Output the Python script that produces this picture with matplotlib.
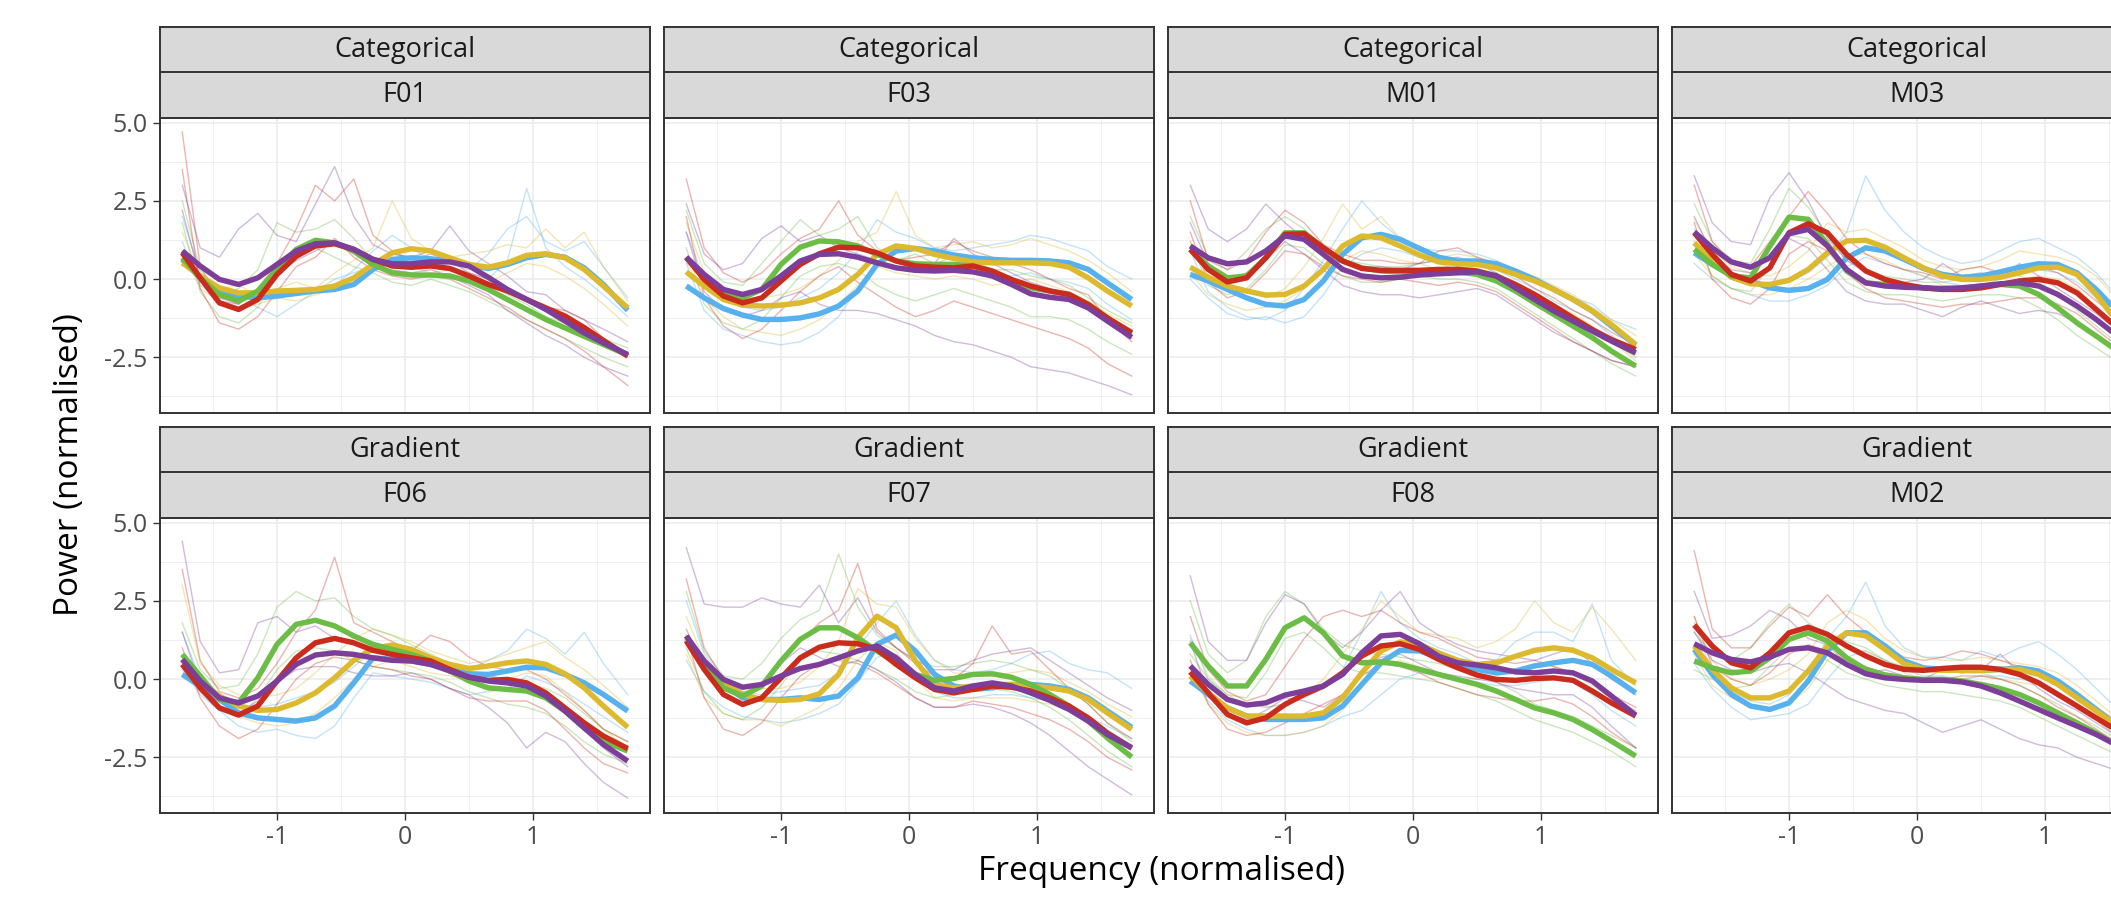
import matplotlib
matplotlib.use("Agg")
import matplotlib.pyplot as plt
from matplotlib.ticker import FixedLocator

plt.rcParams['font.family'] = ['Open Sans', 'DejaVu Sans']

# normalised frequency grid shared by every trace
freq = [-1.74, -1.6, -1.45, -1.3, -1.15, -1.0, -0.85, -0.7, -0.55, -0.4, -0.25, -0.1,
        0.05, 0.2, 0.35, 0.5, 0.65, 0.8, 0.95, 1.1, 1.25, 1.4, 1.55, 1.74]

conditions = ["Categorical"] * 4 + ["Gradient"] * 4
speakers = ["F01", "F03", "M01", "M03", "F06", "F07", "F08", "M02"]
groups = ["blue", "yellow", "green", "red", "purple"]

#########-----F01-----#########
f01_blue = [0.63, 0.04, -0.33, -0.54, -0.60, -0.54, -0.46, -0.38, -0.33, -0.17, 0.31, 0.63, 0.68, 0.65, 0.58, 0.45, 0.34, 0.47, 0.68, 0.79, 0.70, 0.36, -0.17, -1.0]
f01_yellow = [0.52, 0.10, -0.28, -0.44, -0.44, -0.38, -0.36, -0.33, -0.22, 0.04, 0.47, 0.84, 0.97, 0.90, 0.68, 0.47, 0.38, 0.52, 0.76, 0.81, 0.68, 0.31, -0.22, -0.92]
f01_green = [0.68, 0.04, -0.49, -0.70, -0.38, 0.31, 0.95, 1.24, 1.16, 0.90, 0.47, 0.20, 0.13, 0.13, 0.10, -0.06, -0.33, -0.65, -0.97, -1.29, -1.56, -1.83, -2.09, -2.43]
f01_red = [0.84, 0.04, -0.76, -0.97, -0.65, 0.15, 0.73, 1.06, 1.13, 0.95, 0.63, 0.42, 0.38, 0.42, 0.34, 0.10, -0.17, -0.38, -0.65, -0.92, -1.18, -1.55, -1.96, -2.46]
f01_purple = [0.90, 0.42, -0.01, -0.17, 0.04, 0.47, 0.90, 1.13, 1.16, 0.95, 0.63, 0.49, 0.49, 0.55, 0.55, 0.42, 0.06, -0.33, -0.65, -0.97, -1.34, -1.72, -2.04, -2.41]
f01_blue_thin = [[2.0, 0.2, -0.5, -0.6, -0.9, -1.2, -0.8, -0.4, -0.2, 0.3, 0.9, 1.4, 1.0, 0.6, 0.5, 0.3, 0.8, 1.6, 2.0, 1.2, 0.9, 1.2, 0.4, -0.6],
                 [1.2, -0.2, -0.6, -0.7, -0.6, -0.5, -0.3, -0.4, 0.0, 0.2, 0.4, 0.8, 0.7, 0.5, 0.4, 0.2, 0.0, 0.6, 2.9, 1.0, 0.4, 0.0, -0.5, -1.2]]
f01_yellow_thin = [[1.5, 0.1, -0.3, -0.2, -0.5, -0.3, -0.1, -0.3, 0.2, 0.6, 1.0, 2.5, 1.3, 0.9, 0.7, 0.8, 0.9, 1.1, 1.0, 1.6, 1.0, 1.5, 0.4, -0.7],
                   [0.9, -0.3, -0.7, -0.9, -0.8, -0.6, -0.7, -0.5, -0.3, -0.2, 0.3, 0.6, 0.4, 0.2, 0.3, 0.1, -0.1, 0.2, 0.5, 0.4, 0.1, -0.3, -0.8, -1.5]]
f01_green_thin = [[2.5, 0.3, -0.5, -0.3, 0.3, 1.8, 1.5, 1.6, 1.9, 1.3, 0.6, 0.4, 0.3, 0.5, 0.3, 0.1, -0.1, -0.5, -0.8, -1.2, -1.4, -1.6, -1.9, -2.2],
                  [1.8, -0.4, -1.2, -1.4, -0.9, 0.1, 0.8, 1.0, 0.7, 0.4, 0.2, -0.1, -0.2, 0.0, -0.2, -0.4, -0.7, -1.0, -1.3, -1.6, -1.9, -2.2, -2.5, -2.8]]
f01_red_thin = [[4.7, 0.4, -0.6, -0.8, -0.3, 0.5, 1.6, 3.0, 2.5, 3.2, 1.4, 0.9, 0.6, 0.8, 0.6, 0.2, 0.0, -0.3, -0.6, -0.9, -1.0, -1.3, -1.9, -2.5],
                [3.5, -0.3, -1.4, -1.6, -1.2, -0.4, 0.4, 0.7, 1.3, 0.7, 0.3, 0.1, 0.0, 0.1, 0.0, -0.3, -0.6, -0.9, -1.3, -1.6, -1.9, -2.3, -2.8, -3.4]]
f01_purple_thin = [[3.0, 1.0, 0.7, 1.6, 2.1, 1.4, 1.2, 2.4, 3.6, 2.0, 1.1, 0.8, 0.7, 0.9, 1.7, 0.9, 0.5, 0.1, -0.4, -0.5, -1.0, -1.3, -1.6, -2.0],
                   [2.2, 0.0, -0.7, -0.8, -0.4, 0.2, 0.6, 0.9, 1.2, 0.8, 0.4, 0.3, 0.2, 0.3, 0.1, -0.2, -0.5, -1.0, -1.4, -1.8, -2.1, -2.5, -2.8, -3.1]]

#########-----F03-----#########
f03_blue = [-0.22, -0.60, -0.94, -1.15, -1.29, -1.29, -1.24, -1.11, -0.86, -0.38, 0.47, 0.90, 0.98, 0.90, 0.77, 0.68, 0.63, 0.60, 0.60, 0.58, 0.52, 0.31, -0.12, -0.65]
f03_yellow = [0.23, -0.22, -0.65, -0.83, -0.86, -0.83, -0.76, -0.60, -0.33, 0.15, 0.79, 1.06, 0.98, 0.79, 0.66, 0.55, 0.52, 0.52, 0.52, 0.50, 0.38, 0.04, -0.38, -0.86]
f03_green = [0.68, 0.04, -0.38, -0.60, -0.33, 0.47, 1.02, 1.22, 1.19, 1.06, 0.79, 0.58, 0.49, 0.47, 0.47, 0.42, 0.23, -0.06, -0.28, -0.38, -0.49, -0.81, -1.24, -1.75]
f03_red = [0.70, -0.01, -0.54, -0.76, -0.60, -0.06, 0.47, 0.81, 1.02, 1.00, 0.84, 0.58, 0.42, 0.38, 0.36, 0.42, 0.26, -0.01, -0.22, -0.38, -0.49, -0.81, -1.24, -1.71]
f03_purple = [0.70, 0.15, -0.33, -0.49, -0.33, 0.10, 0.58, 0.79, 0.81, 0.70, 0.52, 0.36, 0.28, 0.26, 0.28, 0.23, 0.10, -0.17, -0.47, -0.58, -0.65, -0.92, -1.34, -1.86]
f03_blue_thin = [[1.5, 0.0, -0.6, -0.9, -1.0, -0.9, -0.6, -0.3, 0.2, 0.9, 1.9, 1.5, 1.3, 1.0, 0.9, 1.0, 1.1, 1.2, 1.4, 1.3, 1.1, 0.9, 0.4, 0.0],
                 [0.5, -1.0, -1.6, -1.8, -2.0, -2.1, -2.0, -1.7, -1.2, -0.3, 0.5, 0.3, 0.4, 0.2, 0.3, 0.2, 0.1, 0.1, 0.2, 0.0, -0.1, -0.3, -0.8, -1.3]]
f03_yellow_thin = [[1.8, 0.2, -0.4, -0.6, -0.6, -0.5, -0.3, 0.1, 0.6, 1.2, 1.5, 2.8, 1.4, 1.0, 1.1, 1.2, 1.0, 1.1, 1.3, 1.1, 0.9, 0.6, 0.2, -0.4],
                   [0.6, -0.6, -1.2, -1.6, -1.7, -1.8, -1.6, -1.3, -0.8, -0.2, 0.4, 0.2, 0.1, 0.0, 0.1, 0.0, -0.2, -0.1, 0.0, -0.2, -0.4, -0.7, -1.1, -1.5]]
f03_green_thin = [[2.2, 0.5, -0.1, -0.2, 0.5, 1.2, 1.9, 1.4, 1.6, 2.0, 1.0, 0.6, 0.8, 0.5, 0.7, 0.6, 0.3, 0.3, 0.1, 0.0, -0.2, -0.6, -1.0, -1.4],
                  [1.0, -0.8, -1.4, -1.6, -1.3, -0.6, 0.1, 0.4, 0.5, 0.3, -0.2, -0.5, -0.7, -0.5, -0.3, -0.5, -0.7, -0.9, -1.2, -1.2, -1.3, -1.6, -2.0, -2.4]]
f03_red_thin = [[3.2, 1.0, 0.2, -0.1, 0.2, 0.8, 1.3, 1.6, 2.5, 1.4, 0.9, 0.6, 0.7, 0.8, 1.2, 0.9, 0.7, 0.5, 0.3, 0.0, -0.3, -0.5, -1.3, -2.0],
                [2.0, -0.6, -1.5, -1.9, -1.6, -1.0, -0.4, 0.1, 0.4, -0.1, -0.5, -0.9, -1.2, -1.0, -0.7, -0.9, -1.1, -1.3, -1.5, -1.7, -1.9, -2.2, -2.7, -3.1]]
f03_purple_thin = [[2.4, 0.8, 0.3, 0.5, 1.3, 1.7, 1.2, 1.4, 1.0, 0.8, 0.6, 0.4, 0.4, 0.5, 1.3, 0.8, 0.5, 0.2, -0.1, -0.3, -0.5, -0.9, -1.4, -1.9],
                   [1.5, -0.4, -1.0, -1.2, -1.0, -0.6, -0.4, -0.8, -1.0, -1.0, -1.1, -1.3, -1.5, -1.8, -2.0, -2.1, -2.3, -2.5, -2.8, -2.9, -3.0, -3.2, -3.4, -3.7]]

#########-----M01-----#########
m01_blue = [0.15, -0.06, -0.33, -0.60, -0.81, -0.86, -0.65, -0.06, 0.79, 1.32, 1.43, 1.27, 0.98, 0.70, 0.58, 0.58, 0.49, 0.26, -0.01, -0.33, -0.65, -1.02, -1.50, -2.11]
m01_yellow = [0.38, 0.06, -0.22, -0.38, -0.51, -0.49, -0.22, 0.31, 1.06, 1.38, 1.32, 1.06, 0.77, 0.55, 0.49, 0.47, 0.36, 0.15, -0.06, -0.33, -0.65, -1.02, -1.45, -2.09]
m01_green = [0.95, 0.42, 0.04, 0.10, 0.68, 1.48, 1.48, 1.00, 0.58, 0.36, 0.26, 0.23, 0.23, 0.23, 0.23, 0.15, -0.06, -0.38, -0.76, -1.13, -1.50, -1.87, -2.30, -2.78]
m01_red = [0.95, 0.31, -0.09, 0.04, 0.68, 1.43, 1.45, 1.00, 0.58, 0.34, 0.28, 0.28, 0.28, 0.31, 0.31, 0.26, 0.10, -0.17, -0.49, -0.86, -1.24, -1.61, -1.93, -2.25]
m01_purple = [1.06, 0.68, 0.49, 0.55, 0.90, 1.38, 1.27, 0.79, 0.31, 0.10, 0.04, 0.06, 0.13, 0.17, 0.20, 0.23, 0.10, -0.28, -0.65, -1.02, -1.34, -1.66, -1.98, -2.36]
m01_blue_thin = [[0.9, -0.4, -0.9, -1.2, -1.3, -1.0, -0.3, 0.6, 1.6, 2.5, 1.8, 1.3, 1.0, 0.9, 0.9, 0.8, 0.6, 0.3, -0.1, -0.3, -0.6, -0.8, -1.3, -1.6],
                 [0.0, -0.6, -1.1, -1.3, -1.2, -1.4, -1.2, -0.5, 0.4, 0.8, 1.0, 0.9, 0.7, 0.5, 0.3, 0.4, 0.3, 0.0, -0.3, -0.7, -1.0, -1.3, -1.8, -2.4]]
m01_yellow_thin = [[1.2, 0.1, -0.4, -0.3, -0.6, -0.3, 0.4, 1.3, 2.4, 1.6, 2.0, 1.3, 0.9, 0.7, 0.8, 0.7, 0.5, 0.3, 0.1, -0.2, -0.5, -0.9, -1.3, -1.8],
                   [0.2, -0.5, -0.8, -1.0, -0.9, -0.7, -0.3, 0.3, 0.6, 0.9, 0.8, 0.6, 0.5, 0.3, 0.2, 0.3, 0.1, -0.2, -0.5, -0.8, -1.1, -1.5, -2.0, -2.6]]
m01_green_thin = [[2.0, 0.7, 0.3, 0.9, 1.6, 2.0, 1.6, 0.9, 0.6, 0.5, 0.4, 0.4, 0.5, 0.6, 0.4, 0.3, 0.2, -0.1, -0.5, -0.9, -1.3, -1.6, -2.0, -2.5],
                  [1.2, -0.2, -0.5, -0.3, 0.3, 1.1, 1.0, 0.5, 0.1, -0.1, -0.1, 0.0, 0.1, 0.0, 0.0, -0.1, -0.3, -0.7, -1.1, -1.5, -1.9, -2.3, -2.7, -3.1]]
m01_red_thin = [[2.5, 0.6, 0.3, 0.6, 1.5, 2.2, 1.8, 1.1, 0.8, 0.6, 0.6, 0.5, 0.5, 0.9, 1.0, 0.7, 0.5, 0.1, -0.3, -0.6, -1.0, -1.3, -1.7, -2.1],
                [1.5, -0.1, -0.6, -0.4, 0.2, 0.9, 0.8, 0.4, 0.1, 0.0, -0.1, 0.0, -0.1, -0.2, -0.1, -0.2, -0.4, -0.8, -1.2, -1.6, -2.0, -2.3, -2.6, -2.8]]
m01_purple_thin = [[3.0, 1.6, 1.2, 1.6, 2.4, 1.8, 1.3, 1.0, 0.6, 0.4, 0.4, 0.3, 0.5, 0.6, 0.7, 0.5, 0.2, -0.2, -0.6, -0.9, -1.3, -1.6, -1.9, -2.2],
                   [1.8, 0.5, 0.0, 0.2, 0.6, 1.2, 0.8, 0.3, -0.2, -0.4, -0.5, -0.5, -0.6, -0.5, -0.4, -0.3, -0.5, -0.9, -1.3, -1.7, -2.0, -2.3, -2.6, -2.8]]

#########-----M03-----#########
m03_blue = [0.84, 0.47, 0.15, -0.06, -0.28, -0.36, -0.30, -0.01, 0.68, 1.00, 0.90, 0.63, 0.34, 0.15, 0.06, 0.10, 0.23, 0.38, 0.49, 0.47, 0.20, -0.33, -0.97, -1.66]
m03_yellow = [1.16, 0.58, 0.06, -0.15, -0.17, -0.04, 0.31, 0.84, 1.22, 1.24, 1.02, 0.68, 0.36, 0.10, -0.01, -0.01, 0.06, 0.20, 0.36, 0.38, 0.15, -0.49, -1.29, -2.09]
m03_green = [0.95, 0.47, 0.10, 0.04, 1.05, 1.98, 1.91, 1.11, 0.26, -0.12, -0.17, -0.22, -0.28, -0.33, -0.30, -0.22, -0.17, -0.22, -0.49, -0.92, -1.40, -1.82, -2.25, -2.73]
m03_red = [1.48, 0.79, 0.15, -0.06, 0.36, 1.48, 1.77, 1.48, 0.79, 0.26, -0.01, -0.17, -0.28, -0.33, -0.33, -0.28, -0.17, -0.06, -0.01, -0.12, -0.44, -0.97, -1.50, -2.30]
m03_purple = [1.51, 1.00, 0.55, 0.38, 0.68, 1.45, 1.59, 1.06, 0.31, -0.12, -0.22, -0.26, -0.28, -0.30, -0.28, -0.22, -0.15, -0.12, -0.22, -0.49, -0.86, -1.29, -1.77, -2.30]
m03_blue_thin = [[1.6, 0.5, 0.2, 0.0, -0.2, -0.1, 0.2, 0.7, 1.5, 3.3, 2.2, 1.5, 1.0, 0.7, 0.5, 0.6, 0.9, 1.2, 1.3, 1.0, 0.7, 0.2, -0.5, -1.2],
                 [0.5, 0.0, -0.3, -0.5, -0.7, -0.7, -0.5, -0.2, 0.4, 0.7, 0.5, 0.3, 0.1, -0.1, -0.2, -0.2, 0.0, 0.2, 0.3, 0.2, -0.1, -0.6, -1.2, -2.0]]
m03_yellow_thin = [[1.9, 0.9, 0.4, 0.2, 0.1, 0.4, 0.9, 1.8, 1.5, 1.6, 1.3, 1.0, 0.6, 0.4, 0.3, 0.4, 0.6, 0.9, 0.8, 0.7, 0.5, 0.1, -0.6, -1.5],
                   [0.8, 0.1, -0.3, -0.5, -0.5, -0.3, 0.0, 0.4, 0.8, 0.8, 0.6, 0.3, 0.1, -0.2, -0.3, -0.3, -0.2, 0.0, 0.1, 0.0, -0.3, -0.9, -1.6, -2.4]]
m03_green_thin = [[2.4, 1.2, 0.6, 0.5, 1.6, 2.9, 2.3, 1.4, 0.6, 0.3, 0.1, 0.0, -0.1, -0.1, 0.0, 0.1, 0.2, 0.1, -0.1, -0.5, -1.0, -1.5, -2.0, -2.5],
                  [1.2, 0.1, -0.3, -0.4, 0.4, 1.4, 1.3, 0.6, -0.1, -0.4, -0.5, -0.5, -0.6, -0.7, -0.6, -0.5, -0.5, -0.6, -0.9, -1.3, -1.8, -2.2, -2.6, -3.0]]
m03_red_thin = [[3.0, 1.2, 0.5, 0.4, 1.2, 2.0, 2.8, 2.1, 1.3, 0.8, 0.5, 0.3, 0.2, 0.0, 0.3, 0.4, 0.2, 0.3, 0.4, 0.2, -0.2, -0.7, -1.2, -2.0],
                [1.8, 0.0, -0.6, -0.8, -0.3, 0.8, 1.2, 0.9, 0.2, -0.3, -0.6, -0.7, -0.8, -0.9, -0.8, -0.8, -0.7, -0.6, -0.6, -0.8, -1.1, -1.6, -2.1, -2.6]]
m03_purple_thin = [[3.3, 1.8, 1.2, 1.1, 2.6, 3.4, 2.5, 1.3, 0.6, 0.2, 0.0, -0.1, 0.0, 0.5, 0.1, 0.2, 0.0, 0.5, 0.1, -0.3, -0.7, -1.1, -1.6, -2.2],
                   [2.0, 0.8, 0.3, 0.2, 0.8, 1.3, 1.0, 0.3, -0.4, -0.7, -0.8, -0.8, -1.0, -1.2, -0.9, -0.7, -0.9, -1.1, -1.0, -1.1, -1.4, -1.8, -2.3, -2.8]]

#########-----F06-----#########
f06_blue = [0.15, -0.22, -0.65, -1.08, -1.24, -1.29, -1.34, -1.24, -0.86, -0.12, 0.68, 0.63, 0.58, 0.47, 0.31, 0.17, 0.15, 0.26, 0.38, 0.36, 0.15, -0.12, -0.49, -1.02]
f06_yellow = [0.47, -0.06, -0.54, -0.86, -1.00, -0.97, -0.76, -0.44, 0.04, 0.60, 0.98, 1.09, 0.95, 0.68, 0.47, 0.34, 0.42, 0.52, 0.58, 0.47, 0.17, -0.28, -0.86, -1.54]
f06_green = [0.79, 0.10, -0.65, -0.76, 0.04, 1.11, 1.75, 1.88, 1.70, 1.38, 1.11, 0.95, 0.79, 0.58, 0.26, -0.06, -0.28, -0.33, -0.38, -0.60, -1.02, -1.56, -1.98, -2.30]
f06_red = [0.47, -0.28, -0.92, -1.15, -0.86, -0.06, 0.68, 1.16, 1.30, 1.16, 0.92, 0.79, 0.68, 0.58, 0.31, 0.06, -0.04, -0.01, -0.12, -0.44, -0.92, -1.40, -1.82, -2.22]
f06_purple = [0.63, -0.06, -0.60, -0.76, -0.54, -0.06, 0.47, 0.77, 0.84, 0.79, 0.68, 0.60, 0.58, 0.47, 0.26, 0.06, -0.06, -0.12, -0.22, -0.54, -1.02, -1.56, -2.09, -2.62]
f06_blue_thin = [[1.5, 0.0, -0.5, -0.8, -0.9, -0.8, -0.6, -0.4, -0.1, 0.4, 0.9, 0.9, 0.8, 0.6, 0.4, 0.3, 0.6, 0.9, 1.6, 1.3, 0.8, 1.5, 0.5, -0.5],
                 [0.3, -0.5, -1.0, -1.5, -1.7, -1.6, -1.8, -1.9, -1.5, -0.6, 0.2, 0.1, 0.0, -0.1, -0.3, -0.5, -0.4, -0.3, 0.1, -0.1, -0.4, -0.8, -1.2, -1.7]]
f06_yellow_thin = [[3.0, 0.5, -0.2, -0.5, -0.6, -0.5, -0.3, 0.2, 0.8, 1.3, 1.6, 1.4, 1.2, 0.9, 0.7, 0.5, 0.6, 0.8, 1.0, 1.2, 0.7, 0.3, -0.2, -0.9],
                   [0.8, -0.4, -0.9, -1.2, -1.4, -1.5, -1.4, -1.1, -0.6, 0.0, 0.4, 0.6, 0.4, 0.2, 0.1, 0.0, -0.1, 0.0, 0.2, 0.1, -0.4, -1.0, -1.6, -2.2]]
f06_green_thin = [[1.8, 0.3, -0.3, -0.2, 0.8, 2.3, 2.8, 2.5, 2.6, 2.0, 1.6, 1.4, 1.1, 0.8, 0.5, 0.2, 0.0, 0.0, -0.1, -0.3, -0.6, -1.1, -1.6, -2.0],
                  [0.5, -0.4, -1.0, -1.2, -0.6, 0.3, 0.9, 1.0, 0.9, 0.6, 0.4, 0.3, 0.2, 0.1, -0.1, -0.4, -0.6, -0.8, -0.9, -1.1, -1.5, -2.0, -2.4, -2.7]]
f06_red_thin = [[3.5, 0.6, -0.4, -0.6, -0.3, 0.5, 1.5, 2.2, 3.9, 1.8, 1.5, 1.2, 0.9, 1.4, 1.2, 0.7, 0.4, 0.3, 0.3, 0.0, -0.5, -1.0, -1.6, -2.0],
                [1.0, -0.6, -1.5, -1.9, -1.6, -0.8, 0.0, 0.5, 0.7, 0.6, 0.4, 0.3, 0.1, 0.0, -0.3, -0.6, -0.7, -0.7, -0.7, -1.0, -1.6, -2.2, -2.7, -3.0]]
f06_purple_thin = [[4.4, 1.2, 0.2, 0.3, 1.8, 2.0, 1.5, 1.7, 1.3, 1.1, 0.9, 0.8, 0.9, 0.7, 0.4, 0.2, 0.1, 0.0, -0.2, -0.5, -1.0, -1.6, -2.2, -2.8],
                   [1.5, -0.2, -0.9, -1.1, -0.7, -0.1, 0.3, 0.4, 0.4, 0.2, 0.1, 0.1, 0.2, 0.0, -0.3, -0.5, -0.9, -1.4, -2.2, -1.7, -2.0, -2.7, -3.3, -3.8]]

#########-----F07-----#########
f07_blue = [1.27, 0.47, -0.17, -0.60, -0.65, -0.65, -0.60, -0.65, -0.54, 0.04, 1.11, 1.41, 0.90, 0.15, -0.22, -0.33, -0.28, -0.17, -0.17, -0.22, -0.33, -0.60, -1.02, -1.54]
f07_yellow = [1.32, 0.58, -0.12, -0.49, -0.65, -0.68, -0.65, -0.47, 0.15, 1.32, 2.01, 1.64, 0.58, -0.17, -0.28, -0.22, -0.17, -0.17, -0.22, -0.28, -0.38, -0.65, -1.08, -1.61]
f07_green = [1.38, 0.47, -0.28, -0.54, -0.22, 0.58, 1.27, 1.64, 1.64, 1.32, 0.90, 0.52, 0.15, -0.04, 0.02, 0.15, 0.17, 0.06, -0.17, -0.49, -0.86, -1.34, -1.88, -2.49]
f07_red = [1.22, 0.31, -0.49, -0.81, -0.60, 0.04, 0.68, 1.02, 1.16, 1.13, 0.95, 0.47, 0.04, -0.33, -0.44, -0.33, -0.22, -0.26, -0.38, -0.60, -0.86, -1.24, -1.72, -2.20]
f07_purple = [1.38, 0.58, -0.01, -0.26, -0.17, 0.10, 0.34, 0.47, 0.68, 0.90, 1.06, 0.68, 0.15, -0.28, -0.38, -0.22, -0.12, -0.22, -0.44, -0.68, -0.97, -1.34, -1.77, -2.20]
f07_blue_thin = [[2.5, 0.8, 0.0, -0.4, -0.5, -0.4, -0.3, -0.2, 0.2, 1.0, 1.8, 2.5, 1.4, 0.6, 0.3, 0.2, 0.3, 0.5, 0.8, 0.9, 0.5, 0.3, 0.2, -0.3],
                 [0.6, -0.4, -0.9, -1.2, -1.3, -1.4, -1.3, -1.1, -0.8, -0.1, 0.7, 0.8, 0.2, -0.4, -0.6, -0.6, -0.5, -0.5, -0.6, -0.7, -0.9, -1.2, -1.5, -1.9]]
f07_yellow_thin = [[2.0, 0.6, -0.2, -0.4, -0.3, -0.3, -0.1, 0.4, 1.2, 2.9, 2.4, 2.3, 1.3, 0.6, 0.2, 0.1, 0.1, 0.2, 0.3, 0.2, -0.1, -0.4, -0.8, -1.2],
                   [0.8, -0.6, -1.1, -1.3, -1.3, -1.5, -1.2, -0.9, -0.3, 0.6, 1.2, 0.9, 0.0, -0.6, -0.7, -0.6, -0.6, -0.6, -0.7, -0.8, -1.0, -1.3, -1.7, -2.1]]
f07_green_thin = [[2.8, 0.9, 0.1, 0.0, 0.5, 1.3, 1.9, 2.2, 4.0, 2.3, 1.4, 1.0, 0.6, 0.4, 0.4, 0.5, 0.6, 0.5, 0.3, 0.1, -0.3, -0.8, -1.4, -2.0],
                  [1.0, -0.4, -1.1, -1.3, -0.9, -0.2, 0.6, 0.9, 0.8, 0.6, 0.3, 0.0, -0.4, -0.6, -0.5, -0.3, -0.3, -0.4, -0.6, -0.9, -1.3, -1.8, -2.3, -2.8]]
f07_red_thin = [[3.2, 1.0, 0.0, -0.3, -0.1, 0.6, 1.2, 1.8, 2.2, 3.7, 1.6, 1.0, 0.5, 0.1, 0.0, 0.5, 1.7, 0.8, 0.9, 0.3, -0.3, -0.8, -1.4, -1.9],
                [1.4, -0.6, -1.6, -1.8, -1.4, -0.6, 0.1, 0.5, 0.6, 0.5, 0.2, -0.2, -0.6, -0.9, -0.9, -0.7, -0.8, -0.9, -1.1, -1.3, -1.6, -2.0, -2.5, -2.9]]
f07_purple_thin = [[4.2, 2.4, 2.3, 2.3, 2.6, 2.4, 2.3, 3.0, 1.8, 2.6, 1.5, 1.0, 0.6, 0.3, 0.3, 0.6, 0.8, 0.9, 1.0, 0.6, 0.2, -0.2, -0.6, -1.0],
                   [1.6, 0.3, -0.3, -0.5, -0.2, 0.5, 1.0, 0.7, 0.4, 0.6, 0.3, -0.1, -0.6, -0.9, -0.9, -0.8, -0.9, -1.1, -1.4, -1.8, -2.3, -2.8, -3.2, -3.7]]

#########-----F08-----#########
f08_blue = [-0.06, -0.49, -0.92, -1.18, -1.29, -1.29, -1.29, -1.24, -0.86, -0.17, 0.52, 0.92, 0.90, 0.70, 0.49, 0.31, 0.20, 0.26, 0.42, 0.52, 0.60, 0.47, 0.10, -0.44]
f08_yellow = [0.10, -0.44, -0.92, -1.18, -1.18, -1.18, -1.18, -1.08, -0.60, 0.20, 0.90, 1.19, 1.11, 0.84, 0.60, 0.47, 0.52, 0.73, 0.92, 1.00, 0.92, 0.68, 0.31, -0.12]
f08_green = [1.16, 0.42, -0.22, -0.22, 0.63, 1.64, 1.96, 1.48, 0.74, 0.52, 0.55, 0.47, 0.31, 0.15, -0.01, -0.17, -0.38, -0.65, -0.92, -1.08, -1.29, -1.61, -1.98, -2.46]
f08_red = [0.23, -0.44, -1.13, -1.40, -1.24, -0.81, -0.49, -0.22, 0.20, 0.74, 1.06, 1.13, 0.95, 0.63, 0.36, 0.13, -0.01, -0.04, 0.02, 0.04, -0.04, -0.38, -0.76, -1.18]
f08_purple = [0.42, -0.17, -0.65, -0.83, -0.76, -0.51, -0.38, -0.22, 0.15, 0.84, 1.38, 1.43, 1.13, 0.73, 0.52, 0.45, 0.36, 0.23, 0.20, 0.26, 0.20, -0.06, -0.54, -1.15]
f08_blue_thin = [[1.4, 0.0, -0.6, -0.8, -0.9, -0.8, -0.6, -0.3, 0.3, 1.5, 2.8, 1.8, 1.3, 1.0, 0.8, 0.5, 0.6, 1.2, 1.5, 1.5, 1.2, 2.4, 0.6, -0.2],
                 [0.2, -0.7, -1.3, -1.6, -1.8, -1.8, -1.7, -1.5, -1.2, -1.0, -0.5, 0.0, 0.2, 0.1, 0.0, -0.1, -0.2, -0.2, -0.1, 0.0, -0.1, -0.5, -1.0, -1.5]]
f08_yellow_thin = [[1.3, 0.1, -0.5, -0.8, -0.9, -0.8, -0.5, 0.0, 0.8, 1.6, 2.5, 2.0, 1.5, 1.4, 1.3, 1.0, 1.2, 1.6, 2.5, 1.8, 1.5, 2.3, 1.6, 0.6],
                   [0.3, -0.8, -1.4, -1.7, -1.8, -1.8, -1.7, -1.5, -1.0, -0.2, 0.4, 0.6, 0.4, 0.2, 0.0, 0.0, 0.1, 0.3, 0.5, 0.4, 0.2, -0.2, -0.6, -1.0]]
f08_green_thin = [[2.5, 0.8, 0.2, 0.6, 2.0, 2.8, 2.4, 1.6, 1.1, 0.9, 0.8, 0.7, 0.6, 0.5, 0.3, 0.1, -0.1, -0.4, -0.8, -1.0, -1.2, -1.5, -1.8, -2.2],
                  [0.8, 0.0, -0.5, -0.6, 0.2, 1.3, 1.5, 1.0, 0.4, 0.2, 0.2, 0.1, 0.0, -0.1, -0.3, -0.5, -0.7, -1.0, -1.3, -1.5, -1.7, -2.0, -2.3, -2.8]]
f08_red_thin = [[2.0, 0.3, -0.4, -0.7, -0.5, 0.4, 1.3, 2.0, 2.2, 2.0, 2.2, 1.8, 1.5, 1.3, 1.0, 0.7, 0.6, 0.5, 0.6, 0.4, 0.2, -0.1, -0.5, -0.9],
                [0.6, -0.8, -1.6, -1.8, -1.7, -1.4, -1.1, -0.8, -0.5, 0.1, 0.5, 0.4, 0.2, -0.1, -0.3, -0.5, -0.6, -0.7, -0.7, -0.6, -0.8, -1.2, -1.7, -2.2]]
f08_purple_thin = [[3.3, 1.2, 0.6, 0.6, 1.8, 2.7, 2.4, 1.5, 1.0, 1.5, 2.2, 2.8, 1.8, 1.4, 1.1, 0.9, 0.8, 0.7, 0.6, 0.8, 1.0, 0.5, 0.0, -0.5],
                   [1.2, -0.5, -1.1, -1.3, -1.0, -0.6, -0.7, -0.9, -0.5, 0.2, 0.7, 0.8, 0.5, 0.2, 0.1, 0.0, -0.1, -0.3, -0.4, -0.5, -0.5, -0.9, -1.5, -2.2]]

#########-----M02-----#########
m02_blue = [0.95, 0.15, -0.49, -0.86, -0.97, -0.76, -0.06, 0.90, 1.48, 1.48, 1.06, 0.58, 0.36, 0.31, 0.28, 0.28, 0.31, 0.36, 0.26, -0.06, -0.49, -0.97, -1.45, -1.93]
m02_yellow = [1.06, 0.31, -0.28, -0.60, -0.60, -0.38, 0.26, 1.06, 1.48, 1.38, 0.95, 0.49, 0.31, 0.28, 0.28, 0.28, 0.31, 0.31, 0.15, -0.17, -0.60, -1.02, -1.45, -1.93]
m02_green = [0.58, 0.36, 0.20, 0.26, 0.68, 1.27, 1.48, 1.22, 0.68, 0.31, 0.13, 0.04, -0.01, -0.01, -0.06, -0.17, -0.30, -0.49, -0.76, -1.08, -1.40, -1.72, -2.09, -2.57]
m02_red = [1.73, 1.06, 0.52, 0.36, 0.84, 1.48, 1.66, 1.43, 1.06, 0.74, 0.47, 0.31, 0.28, 0.34, 0.38, 0.38, 0.31, 0.15, -0.12, -0.49, -0.86, -1.24, -1.61, -2.09]
m02_purple = [1.13, 0.84, 0.63, 0.55, 0.70, 0.95, 1.00, 0.84, 0.47, 0.17, 0.04, -0.01, -0.04, -0.04, -0.09, -0.22, -0.44, -0.70, -0.97, -1.24, -1.50, -1.77, -2.09, -2.52]
m02_blue_thin = [[1.8, 0.2, -0.4, -0.7, -0.8, -0.5, 0.2, 1.3, 2.0, 3.1, 1.7, 1.0, 0.7, 0.7, 0.6, 0.9, 0.7, 1.0, 1.2, 0.8, 0.3, -0.3, -0.9, -1.6],
                 [0.5, -0.3, -0.9, -1.3, -1.2, -1.1, -0.8, 0.0, 0.7, 0.9, 0.6, 0.3, 0.1, 0.1, 0.0, 0.1, 0.1, 0.0, -0.1, -0.4, -0.8, -1.3, -1.8, -2.3]]
m02_yellow_thin = [[2.0, 0.6, 0.0, -0.2, 0.0, 0.3, 0.8, 1.8, 2.2, 1.9, 1.3, 0.9, 0.7, 0.6, 0.6, 0.7, 0.6, 0.5, 0.4, 0.2, -0.2, -0.7, -1.2, -1.7],
                   [0.8, -0.2, -0.6, -0.9, -0.9, -0.8, -0.3, 0.6, 1.0, 0.9, 0.6, 0.2, 0.0, -0.1, 0.0, 0.1, 0.0, -0.1, -0.2, -0.5, -0.9, -1.3, -1.8, -2.3]]
m02_green_thin = [[1.5, 0.8, 0.6, 1.0, 1.8, 2.4, 1.8, 1.4, 1.2, 1.0, 0.6, 0.4, 0.3, 0.3, 0.2, 0.2, 0.0, -0.2, -0.5, -0.8, -1.2, -1.5, -1.9, -2.4],
                  [0.3, 0.0, -0.3, -0.2, 0.4, 1.0, 1.0, 0.6, 0.2, 0.0, -0.2, -0.3, -0.4, -0.4, -0.5, -0.6, -0.7, -0.9, -1.2, -1.5, -1.8, -2.1, -2.4, -2.8]]
m02_red_thin = [[4.1, 1.6, 1.0, 1.0, 1.7, 2.3, 2.0, 2.7, 2.0, 1.5, 1.0, 0.7, 0.6, 0.7, 0.9, 0.8, 0.6, 0.4, 0.2, -0.1, -0.5, -0.9, -1.3, -1.8],
                [2.0, 0.4, 0.0, -0.2, 0.2, 0.8, 1.1, 0.9, 0.6, 0.4, 0.2, 0.1, 0.0, 0.0, 0.1, 0.1, 0.0, -0.2, -0.5, -0.9, -1.2, -1.6, -2.0, -2.4]]
m02_purple_thin = [[2.8, 1.3, 1.4, 1.7, 2.2, 1.9, 1.3, 1.1, 0.5, 0.2, 0.3, 0.1, 0.0, 0.3, 0.2, 0.3, 0.8, 0.2, -0.3, -0.7, -1.0, -1.4, -1.8, -2.2],
                   [1.5, 0.6, 0.3, 0.2, 0.4, 0.5, 0.2, -0.2, -0.6, -0.8, -1.0, -1.1, -1.4, -1.7, -1.5, -1.3, -1.6, -1.9, -2.1, -2.2, -2.5, -2.7, -2.9, -3.0]]


colours = {"blue": "#56B1EE", "yellow": "#DDB92E", "green": "#6BBD45",
           "red": "#CB2B1D", "purple": "#7C3E98"}

smooths = {}
traces = {}
for spk in speakers:
    key = spk.lower()
    smooths[spk] = {g: globals()[key + "_" + g] for g in groups}
    traces[spk] = {g: globals()[key + "_" + g + "_thin"] for g in groups}


W, H = 2111, 899
fig = plt.figure(figsize=(W / 100, H / 100), dpi=100)


def box(x, y, w, h):
    # pixel box (from top-left) to figure fraction
    return [x / W, 1 - (y + h) / H, w / W, h / H]


dark = '#333333'
pw, ph = 490, 294.4

for i, spk in enumerate(speakers):
    r, c = divmod(i, 4)
    left = 160 + 504 * c
    top = 118.3 + 400 * r

    ax = fig.add_axes(box(left, top, pw, ph))
    ax.set_xlim(-1.914, 1.914)
    ax.set_ylim(-4.27, 5.14)
    ax.xaxis.set_major_locator(FixedLocator([-1, 0, 1]))
    ax.xaxis.set_minor_locator(FixedLocator([-1.5, -0.5, 0.5, 1.5]))
    ax.yaxis.set_major_locator(FixedLocator([-2.5, 0, 2.5, 5.0]))
    ax.yaxis.set_minor_locator(FixedLocator([-3.75, -1.25, 1.25, 3.75]))
    ax.grid(which='major', color='#EBEBEB', lw=1.1)
    ax.grid(which='minor', color='#EBEBEB', lw=0.55)
    ax.set_axisbelow(True)
    for s in ax.spines.values():
        s.set_color(dark)
        s.set_linewidth(1.4)
    ax.tick_params(which='minor', length=0)
    ax.tick_params(which='major', length=5, width=1.0, color=dark,
                   labelcolor='#4D4D4D', labelsize=18, pad=4)
    ax.set_yticklabels(['-2.5', '0.0', '2.5', '5.0'])
    ax.set_xticklabels(['-1', '0', '1'])
    if c > 0:
        ax.tick_params(axis='y', length=0, labelleft=False)
    if r == 0:
        ax.tick_params(axis='x', length=0, labelbottom=False)

    for g in groups:
        for tr in traces[spk][g]:
            ax.plot(freq, tr, color=colours[g], lw=1.0, alpha=0.35)
    for g in groups:
        ax.plot(freq, smooths[spk][g], color=colours[g], lw=3.9,
                solid_joinstyle='round', solid_capstyle='butt')

    # facet strips
    for k, (label, y0) in enumerate([(conditions[i], 26.7), (spk, 72.0)]):
        sax = fig.add_axes(box(left, y0 + 400 * r, pw, 45.8 if k == 0 else 46.3))
        sax.set_facecolor('#D9D9D9')
        sax.set_xticks([])
        sax.set_yticks([])
        for s in sax.spines.values():
            s.set_color(dark)
            s.set_linewidth(1.4)
        sax.text(0.5, 0.5, label, ha='center', va='center', fontsize=19.5,
                 color='#1A1A1A', transform=sax.transAxes)

fig.text(1161 / W, 1 - 872 / H, 'Frequency (normalised)', ha='center', va='center',
         fontsize=24, color='black')
fig.text(70 / W, 1 - 465 / H, 'Power (normalised)', ha='center', va='center',
         rotation=90, fontsize=24, color='black')

fig.savefig('out.png', dpi=100)
